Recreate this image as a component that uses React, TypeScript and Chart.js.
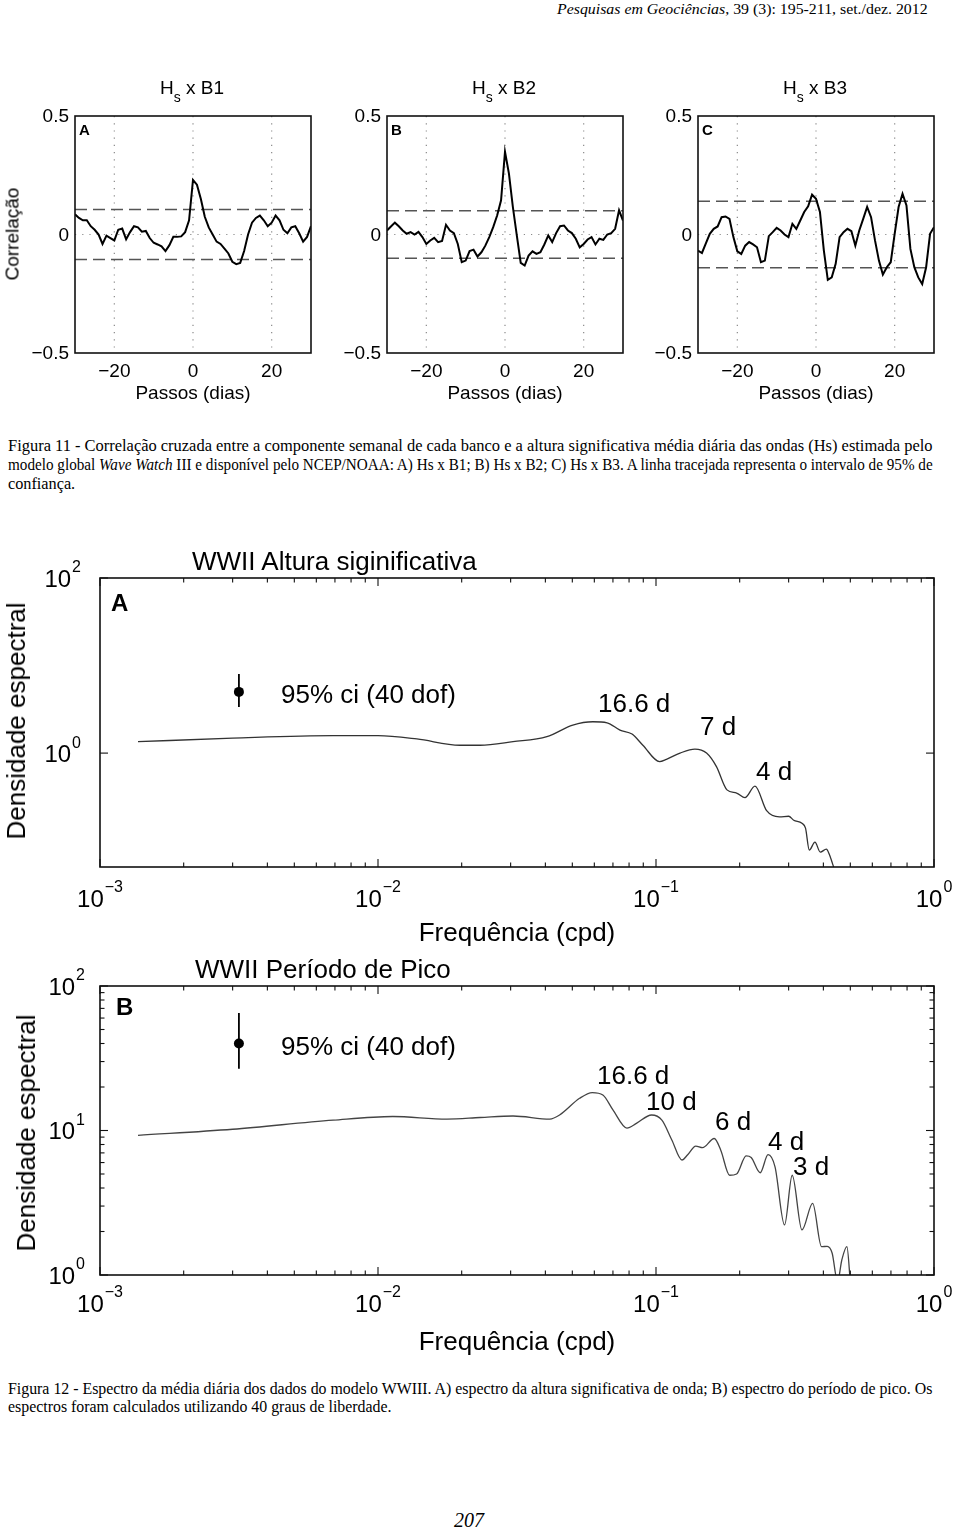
import React, { useEffect, useLayoutEffect, useRef } from "react";
import { Chart, registerables } from "chart.js";

Chart.register(...registerables);

const SANS = '"Liberation Sans", Arial, Helvetica, sans-serif';
const SERIF = '"Liberation Serif", "Times New Roman", Times, serif';

// ---------- Figura 11: cross-correlation (lag in days) ----------
const lagDays = [-30, -29, -28, -27, -26, -25, -24, -23, -22, -21, -20, -19, -18, -17, -16, -15, -14, -13, -12, -11, -10, -9, -8, -7, -6, -5, -4, -3, -2, -1, 0, 1, 2, 3, 4, 5, 6, 7, 8, 9, 10, 11, 12, 13, 14, 15, 16, 17, 18, 19, 20, 21, 22, 23, 24, 25, 26, 27, 28, 29, 30];
const corrB1 = [0.085, 0.07, 0.06, 0.06, 0.035, 0.02, 0.0, -0.04, -0.005, -0.015, -0.025, 0.02, 0.025, -0.02, 0.01, 0.035, 0.03, 0.012, 0.015, -0.015, -0.035, -0.042, -0.05, -0.07, -0.045, -0.01, -0.01, -0.008, 0.01, 0.06, 0.23, 0.21, 0.15, 0.075, 0.03, 0.0, -0.03, -0.04, -0.06, -0.08, -0.115, -0.125, -0.12, -0.07, 0.0, 0.05, 0.07, 0.08, 0.06, 0.035, 0.05, 0.08, 0.06, 0.02, 0.005, 0.03, 0.035, 0.005, -0.03, -0.01, 0.035];
const corrB2 = [0.017, 0.034, 0.05, 0.035, 0.017, 0.003, 0.01, 0.0, 0.011, -0.011, -0.04, -0.025, -0.014, -0.032, -0.027, 0.041, 0.017, 0.006, -0.04, -0.117, -0.11, -0.07, -0.064, -0.093, -0.075, -0.047, -0.011, 0.031, 0.08, 0.144, 0.349, 0.257, 0.116, -0.004, -0.12, -0.131, -0.089, -0.071, -0.082, -0.075, -0.042, -0.004, -0.032, 0.006, 0.035, 0.038, 0.017, 0.006, -0.018, -0.054, -0.04, -0.021, -0.011, -0.042, -0.018, -0.023, 0.0, 0.006, 0.024, 0.102, 0.059];
const corrB3 = [-0.068, -0.078, -0.037, 0.003, 0.024, 0.034, 0.073, 0.076, 0.066, -0.011, -0.071, -0.082, -0.047, -0.032, -0.042, -0.054, -0.117, -0.11, -0.007, 0.01, 0.028, 0.017, 0.0, -0.011, 0.045, 0.024, 0.059, 0.095, 0.119, 0.168, 0.151, 0.095, -0.068, -0.191, -0.181, -0.124, -0.011, 0.01, 0.024, 0.014, -0.047, 0.017, 0.066, 0.116, 0.073, -0.025, -0.11, -0.169, -0.138, -0.117, 0.003, 0.116, 0.172, 0.123, -0.061, -0.138, -0.181, -0.209, -0.138, 0.003, 0.031];
const ciB1 = 0.105;
const ciB2 = 0.1;
const ciB3 = 0.14;
const corrXTicks = [-20, 0, 20];
const corrYTicks = [-0.5, 0, 0.5];

// ---------- Figura 12: spectra ----------
const freqA = [0.00137, 0.003, 0.0069, 0.01, 0.0138, 0.0197, 0.0233, 0.0306, 0.0405, 0.0502, 0.0593, 0.0667, 0.0742, 0.082, 0.0897, 0.103, 0.109, 0.122, 0.138, 0.152, 0.165, 0.18, 0.195, 0.209, 0.227, 0.25, 0.278, 0.3, 0.313, 0.335, 0.345, 0.356, 0.373, 0.39, 0.41, 0.42, 0.44];
const densA = [1.35, 1.48, 1.58, 1.58, 1.45, 1.23, 1.23, 1.35, 1.54, 2.09, 2.28, 2.22, 1.83, 1.65, 1.23, 0.8, 0.85, 1.0, 1.11, 1.0, 0.7, 0.38, 0.35, 0.31, 0.42, 0.22, 0.187, 0.19, 0.171, 0.158, 0.139, 0.078, 0.096, 0.074, 0.08, 0.07, 0.045];
const freqB = [0.00137, 0.003, 0.0069, 0.0113, 0.0177, 0.0233, 0.0306, 0.0415, 0.045, 0.0531, 0.059, 0.0644, 0.07, 0.0786, 0.085, 0.0964, 0.105, 0.114, 0.124, 0.13, 0.139, 0.147, 0.162, 0.171, 0.184, 0.195, 0.211, 0.22, 0.237, 0.253, 0.268, 0.29, 0.309, 0.335, 0.366, 0.394, 0.413, 0.43, 0.45, 0.466, 0.486, 0.5];
const densB = [9.26, 10.2, 11.8, 12.5, 12.0, 12.3, 12.6, 12.0, 12.8, 16.7, 18.3, 17.6, 13.9, 10.4, 11.2, 12.8, 11.8, 8.6, 6.25, 6.8, 7.8, 7.6, 8.8, 7.3, 4.9, 5.0, 6.67, 6.5, 5.1, 6.8, 5.6, 2.22, 4.9, 2.05, 3.13, 1.57, 1.58, 1.42, 0.9, 1.27, 1.57, 0.9];
const ciFreq = 0.00316;
const ciBarA = [3.36, 5, 8];
const ciBarB = [26.7, 40, 65];
const specXDecades = [0.001, 0.01, 0.1, 1];
const specYTicksA = [1, 100];
const specYTicksB = [1, 10, 100];

// ---------- helpers ----------
function fmtSigned(v: any) {
  const n = Number(v);
  if (Math.abs(n) < 1e-9) return "0";
  return (n < 0 ? "\u2212" : "") + String(Math.abs(n));
}

function line(ctx: any, x1: number, y1: number, x2: number, y2: number) {
  ctx.beginPath();
  ctx.moveTo(x1, y1);
  ctx.lineTo(x2, y2);
  ctx.stroke();
}

const corrFrame = {
  id: "corrFrame",
  beforeDatasetsDraw(chart: any) {
    const { ctx, chartArea: a, scales } = chart;
    ctx.save();
    ctx.strokeStyle = "#8a8a8a";
    ctx.lineWidth = 1.2;
    ctx.setLineDash([1.2, 6]);
    for (const t of scales.x.ticks) {
      const px = scales.x.getPixelForValue(t.value);
      if (px <= a.left + 1 || px >= a.right - 1) continue;
      line(ctx, px, a.top, px, a.bottom);
    }
    for (const t of scales.y.ticks) {
      const py = scales.y.getPixelForValue(t.value);
      if (py <= a.top + 1 || py >= a.bottom - 1) continue;
      line(ctx, a.left, py, a.right, py);
    }
    ctx.restore();
  },
  afterDatasetsDraw(chart: any) {
    const { ctx, chartArea: a, scales } = chart;
    ctx.save();
    ctx.strokeStyle = "#111";
    ctx.lineWidth = 1.6;
    ctx.setLineDash([]);
    ctx.strokeRect(a.left, a.top, a.right - a.left, a.bottom - a.top);
    ctx.fillStyle = "#000";
    ctx.font = `19px ${SANS}`;
    ctx.textBaseline = "middle";
    ctx.textAlign = "center";
    for (const t of scales.x.ticks) {
      const px = scales.x.getPixelForValue(t.value);
      ctx.fillText(fmtSigned(t.value), px, a.bottom + 19);
    }
    ctx.textAlign = "right";
    for (const t of scales.y.ticks) {
      const py = scales.y.getPixelForValue(t.value);
      ctx.fillText(fmtSigned(t.value), a.left - 6, py + 1);
    }
    ctx.restore();
  },
};

function drawPow(ctx: any, exp: number, x: number, y: number, align: string) {
  const base = "10";
  const e = exp < 0 ? "\u2212" + String(-exp) : String(exp);
  const bf = `24px ${SANS}`;
  const ef = `16px ${SANS}`;
  ctx.font = bf;
  const wb = ctx.measureText(base).width;
  ctx.font = ef;
  const we = ctx.measureText(e).width;
  const total = wb + 1 + we;
  const x0 = align === "center" ? x - total / 2 : x - total;
  ctx.textAlign = "left";
  ctx.textBaseline = "middle";
  ctx.font = bf;
  ctx.fillText(base, x0, y);
  ctx.font = ef;
  ctx.fillText(e, x0 + wb + 1, y - 12);
}

function makeLogFrame(cfg: { yMajor: number[]; yMinor: boolean; xLabelDy: number; yLabelGap: number }) {
  return {
    id: "logFrame",
    afterDatasetsDraw(chart: any) {
      const { ctx, chartArea: a, scales } = chart;
      const xs = scales.x;
      const ys = scales.y;
      ctx.save();
      ctx.strokeStyle = "#111";
      ctx.setLineDash([]);
      ctx.lineWidth = 1.1;
      const e0 = Math.floor(Math.log10(xs.min) + 1e-9);
      const e1 = Math.ceil(Math.log10(xs.max) - 1e-9);
      for (let e = e0; e <= e1; e++) {
        for (let k = 1; k <= 9; k++) {
          const v = k * Math.pow(10, e);
          if (v < xs.min * 0.999 || v > xs.max * 1.001) continue;
          const px = xs.getPixelForValue(v);
          const len = k === 1 ? 8 : 4.5;
          line(ctx, px, a.bottom, px, a.bottom - len);
          line(ctx, px, a.top, px, a.top + len);
        }
      }
      if (cfg.yMinor) {
        const f0 = Math.floor(Math.log10(ys.min) + 1e-9);
        const f1 = Math.ceil(Math.log10(ys.max) - 1e-9);
        for (let e = f0; e <= f1; e++) {
          for (let k = 2; k <= 9; k++) {
            const v = k * Math.pow(10, e);
            if (v < ys.min || v > ys.max) continue;
            const py = ys.getPixelForValue(v);
            line(ctx, a.left, py, a.left + 4.5, py);
            line(ctx, a.right, py, a.right - 4.5, py);
          }
        }
      }
      for (const v of cfg.yMajor) {
        const py = ys.getPixelForValue(v);
        line(ctx, a.left, py, a.left + 8, py);
        line(ctx, a.right, py, a.right - 8, py);
      }
      ctx.lineWidth = 1.6;
      ctx.strokeRect(a.left, a.top, a.right - a.left, a.bottom - a.top);
      ctx.fillStyle = "#000";
      for (const v of specXDecades) {
        const px = xs.getPixelForValue(v);
        drawPow(ctx, Math.round(Math.log10(v)), px, a.bottom + cfg.xLabelDy, "center");
      }
      for (const v of cfg.yMajor) {
        const py = ys.getPixelForValue(v);
        drawPow(ctx, Math.round(Math.log10(v)), a.left - cfg.yLabelGap, py + 2, "right");
      }
      ctx.restore();
    },
  };
}

// ---------- components ----------
function T(props: any) {
  const { x, y, children, size = 19, anchor = "left", rotate = false, bold = false, family = SANS, italic = false } = props;
  const tx = anchor === "left" ? "0" : anchor === "center" ? "-50%" : "-100%";
  return (
    <div
      style={{
        position: "absolute",
        left: x,
        top: y,
        transform: `translate(${tx}, -50%)${rotate ? " rotate(-90deg)" : ""}`,
        lineHeight: 1,
        whiteSpace: "nowrap",
        fontSize: size,
        fontFamily: family,
        fontWeight: bold ? "bold" : "normal",
        fontStyle: italic ? "italic" : "normal",
        color: "#000",
      }}
    >
      {children}
    </div>
  );
}

function FitLine(props: any) {
  const { x, y, width, size = 16, family = SERIF, children, italic = false } = props;
  const ref = useRef<HTMLDivElement>(null);
  useLayoutEffect(() => {
    const fit = () => {
      const el = ref.current;
      if (!el) return;
      const w = el.offsetWidth;
      if (w > 0) el.style.transform = `translateY(-50%) scaleX(${width / w})`;
    };
    fit();
    const fonts: any = (document as any).fonts;
    if (fonts && fonts.ready) fonts.ready.then(fit);
  }, [width]);
  return (
    <div
      ref={ref}
      style={{
        position: "absolute",
        left: x,
        top: y,
        whiteSpace: "nowrap",
        fontSize: size,
        fontFamily: family,
        fontStyle: italic ? "italic" : "normal",
        lineHeight: 1,
        transformOrigin: "0 50%",
        transform: "translateY(-50%)",
        color: "#000",
      }}
    >
      {children}
    </div>
  );
}

function CorrChart(props: any) {
  const { canvasLeft, plotLeft, plotRight, values, ci } = props;
  const ref = useRef<HTMLCanvasElement>(null);
  const W = 320;
  const H = 290;
  const TOP = 100;
  useEffect(() => {
    const chart = new Chart(ref.current as HTMLCanvasElement, {
      type: "line",
      data: {
        datasets: [
          {
            data: lagDays.map((x, i) => ({ x, y: values[i] })),
            borderColor: "#000",
            borderWidth: 2,
            pointRadius: 0,
            tension: 0,
            fill: false,
          },
          {
            data: [{ x: lagDays[0], y: ci }, { x: lagDays[lagDays.length - 1], y: ci }],
            borderColor: "#555",
            borderWidth: 1.5,
            borderDash: [12, 6],
            pointRadius: 0,
            fill: false,
          },
          {
            data: [{ x: lagDays[0], y: -ci }, { x: lagDays[lagDays.length - 1], y: -ci }],
            borderColor: "#555",
            borderWidth: 1.5,
            borderDash: [12, 6],
            pointRadius: 0,
            fill: false,
          },
        ],
      },
      options: {
        responsive: false,
        animation: false,
        events: [],
        layout: { padding: { left: plotLeft - canvasLeft, right: canvasLeft + W - plotRight, top: 116 - TOP, bottom: TOP + H - 353 } },
        plugins: { legend: { display: false }, tooltip: { enabled: false } },
        scales: {
          x: {
            type: "linear",
            min: -30,
            max: 30,
            afterBuildTicks: (s: any) => {
              s.ticks = corrXTicks.map((v) => ({ value: v }));
            },
            afterFit: (s: any) => {
              s.height = 0;
            },
            ticks: { display: false },
            grid: { display: false, drawTicks: false },
            border: { display: false },
          },
          y: {
            type: "linear",
            min: -0.5,
            max: 0.5,
            afterBuildTicks: (s: any) => {
              s.ticks = corrYTicks.map((v) => ({ value: v }));
            },
            afterFit: (s: any) => {
              s.width = 0;
            },
            ticks: { display: false },
            grid: { display: false, drawTicks: false },
            border: { display: false },
          },
        },
      } as any,
      plugins: [corrFrame],
    });
    return () => chart.destroy();
  }, []);
  return <canvas ref={ref} width={W} height={H} style={{ position: "absolute", left: canvasLeft, top: TOP, width: W, height: H }} />;
}

function SpecChart(props: any) {
  const { top, height, plotTop, plotBottom, freq, dens, ciBar, yMin, yMajor, yMinor, xLabelDy, yLabelGap, color } = props;
  const ref = useRef<HTMLCanvasElement>(null);
  const W = 960;
  useEffect(() => {
    const chart = new Chart(ref.current as HTMLCanvasElement, {
      type: "line",
      data: {
        datasets: [
          {
            data: freq.map((x: number, i: number) => ({ x, y: dens[i] })),
            borderColor: color,
            borderWidth: 1.3,
            pointRadius: 0,
            cubicInterpolationMode: "monotone",
            fill: false,
          },
          {
            data: [{ x: ciFreq, y: ciBar[0] }, { x: ciFreq, y: ciBar[2] }],
            borderColor: "#000",
            borderWidth: 1.8,
            pointRadius: 0,
            fill: false,
          },
          {
            data: [{ x: ciFreq, y: ciBar[1] }],
            showLine: false,
            pointRadius: 5,
            pointBackgroundColor: "#000",
            pointBorderColor: "#000",
            pointBorderWidth: 0,
          },
        ],
      },
      options: {
        responsive: false,
        animation: false,
        events: [],
        layout: { padding: { left: 100, right: 26, top: plotTop - top, bottom: top + height - plotBottom } },
        plugins: { legend: { display: false }, tooltip: { enabled: false } },
        scales: {
          x: {
            type: "logarithmic",
            min: specXDecades[0],
            max: specXDecades[specXDecades.length - 1],
            afterFit: (s: any) => {
              s.height = 0;
            },
            ticks: { display: false },
            grid: { display: false, drawTicks: false },
            border: { display: false },
          },
          y: {
            type: "logarithmic",
            min: yMin,
            max: 100,
            afterFit: (s: any) => {
              s.width = 0;
            },
            ticks: { display: false },
            grid: { display: false, drawTicks: false },
            border: { display: false },
          },
        },
      } as any,
      plugins: [makeLogFrame({ yMajor, yMinor, xLabelDy, yLabelGap })],
    });
    return () => chart.destroy();
  }, []);
  return <canvas ref={ref} width={W} height={height} style={{ position: "absolute", left: 0, top, width: W, height }} />;
}

const corrPanels = [
  { canvasLeft: 0, plotLeft: 75, plotRight: 311, values: corrB1, ci: ciB1, title: "B1", letter: "A" },
  { canvasLeft: 320, plotLeft: 387, plotRight: 623, values: corrB2, ci: ciB2, title: "B2", letter: "B" },
  { canvasLeft: 640, plotLeft: 698, plotRight: 934, values: corrB3, ci: ciB3, title: "B3", letter: "C" },
];

export default function App() {
  return (
    <div style={{ position: "absolute", left: 0, top: 0, width: 960, height: 1529, background: "#fff", overflow: "hidden" }}>
      <FitLine x={557} y={9} width={371} size={15}>
        <i>Pesquisas em Geociências</i>, 39 (3): 195-211, set./dez. 2012
      </FitLine>

      {corrPanels.map((p) => {
        const cx = (p.plotLeft + p.plotRight) / 2;
        return (
          <React.Fragment key={p.title}>
            <CorrChart canvasLeft={p.canvasLeft} plotLeft={p.plotLeft} plotRight={p.plotRight} values={p.values} ci={p.ci} />
            <T x={cx - 1} y={87} size={19} anchor="center">
              H<span style={{ fontSize: 14, position: "relative", top: 8 }}>s</span> x {p.title}
            </T>
            <T x={p.plotLeft + 4} y={128.5} size={15} bold>
              {p.letter}
            </T>
            <T x={cx} y={392} size={19} anchor="center">
              Passos (dias)
            </T>
          </React.Fragment>
        );
      })}
      <T x={12} y={234} size={19} anchor="center" rotate>
        Correlação
      </T>

      <FitLine x={8} y={446} width={924}>
        Figura 11 - Correlação cruzada entre a componente semanal de cada banco e a altura significativa média diária das ondas (Hs) estimada pelo
      </FitLine>
      <FitLine x={8} y={465} width={925}>
        modelo global <i>Wave Watch</i> III e disponível pelo NCEP/NOAA: A) Hs x B1; B) Hs x B2; C) Hs x B3. A linha tracejada representa o intervalo de 95% de
      </FitLine>
      <FitLine x={8} y={484} width={67}>
        confiança.
      </FitLine>

      {/* Figura 12 A */}
      <SpecChart top={540} height={400} plotTop={578} plotBottom={867} freq={freqA} dens={densA} ciBar={ciBarA} yMin={0.05} yMajor={specYTicksA} yMinor={false} xLabelDy={33} yLabelGap={19} color="#333" />
      <T x={192} y={561} size={26}>WWII Altura siginificativa</T>
      <T x={111} y={603} size={24} bold>A</T>
      <T x={281} y={694} size={26}>95% ci (40 dof)</T>
      <T x={598} y={703} size={26}>16.6 d</T>
      <T x={700} y={726} size={26}>7 d</T>
      <T x={756} y={771} size={26}>4 d</T>
      <T x={517} y={932} size={26} anchor="center">Frequência (cpd)</T>
      <T x={16} y={721} size={26} anchor="center" rotate>Densidade espectral</T>

      {/* Figura 12 B */}
      <SpecChart top={950} height={380} plotTop={986} plotBottom={1275} freq={freqB} dens={densB} ciBar={ciBarB} yMin={1} yMajor={specYTicksB} yMinor={true} xLabelDy={30} yLabelGap={15} color="#444" />
      <T x={195} y={969} size={26}>WWII Período de Pico</T>
      <T x={116} y={1007} size={24} bold>B</T>
      <T x={281} y={1046} size={26}>95% ci (40 dof)</T>
      <T x={597} y={1075} size={26}>16.6 d</T>
      <T x={646} y={1101} size={26}>10 d</T>
      <T x={715} y={1121} size={26}>6 d</T>
      <T x={768} y={1141} size={26}>4 d</T>
      <T x={793} y={1166} size={26}>3 d</T>
      <T x={517} y={1341} size={26} anchor="center">Frequência (cpd)</T>
      <T x={26} y={1133} size={26} anchor="center" rotate>Densidade espectral</T>

      <FitLine x={8} y={1389} width={924}>
        Figura 12 - Espectro da média diária dos dados do modelo WWIII. A) espectro da altura significativa de onda; B) espectro do período de pico. Os
      </FitLine>
      <FitLine x={8} y={1407} width={384}>
        espectros foram calculados utilizando 40 graus de liberdade.
      </FitLine>

      <T x={469} y={1520} size={20} anchor="center" family={SERIF} italic>
        207
      </T>
    </div>
  );
}
